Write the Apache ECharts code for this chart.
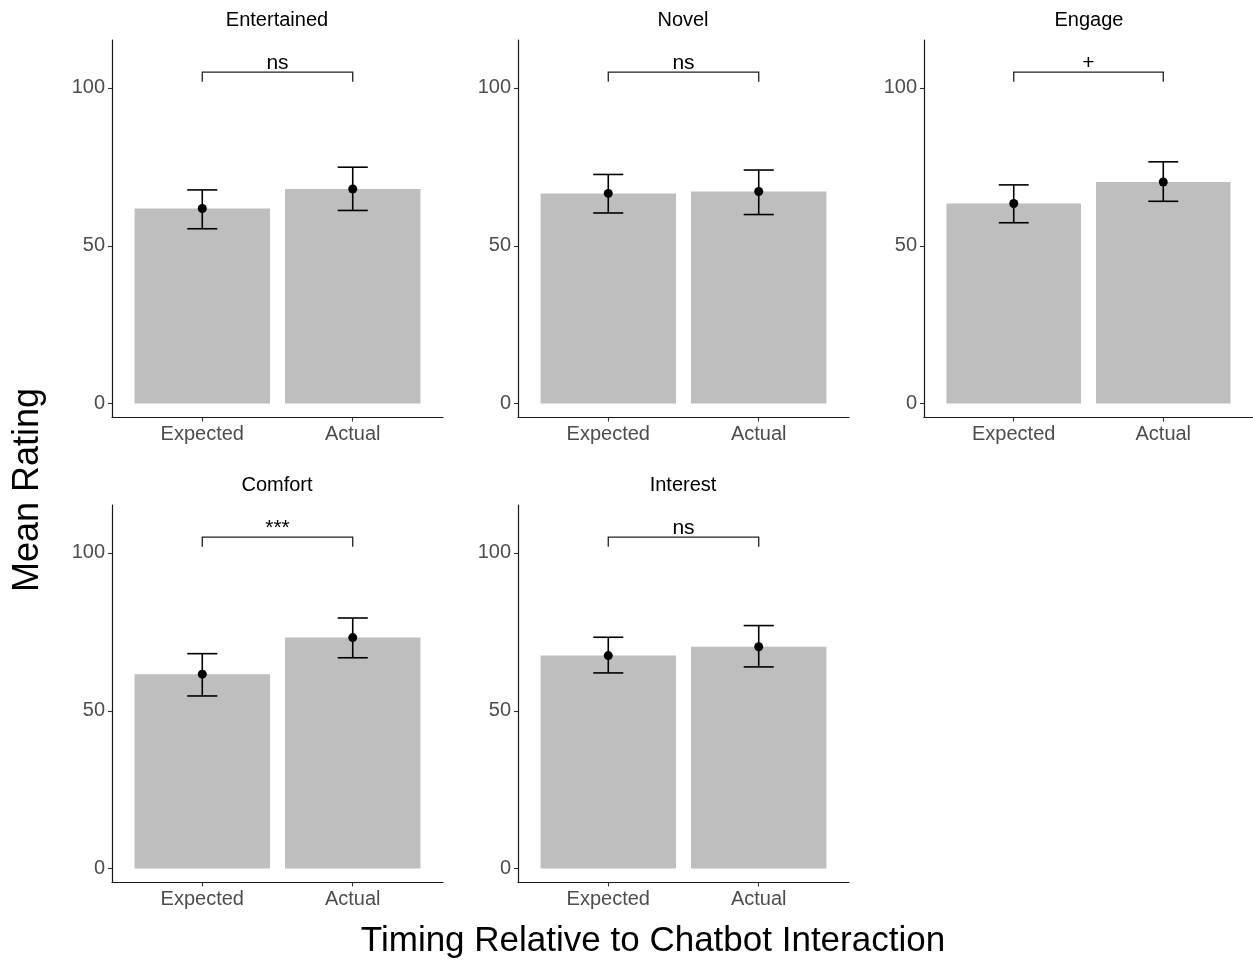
<!DOCTYPE html>
<html>
<head>
<meta charset="utf-8">
<script src="https://cdn.jsdelivr.net/npm/echarts@6/dist/echarts.min.js"></script>
<style>
html,body{margin:0;padding:0;background:#fff;}
#chart{width:1253px;height:960px;}
</style>
</head>
<body>
<div id="chart"></div>
<script>
// ---- data ----
const panelNames = ['Entertained', 'Novel', 'Engage', 'Comfort', 'Interest'];
const categories = ['Expected', 'Actual'];
const meanExpected = [61.8, 66.6, 63.4, 61.6, 67.5];
const meanActual   = [68.0, 67.2, 70.2, 73.2, 70.3];
const lowExpected  = [55.4, 60.4, 57.3, 54.7, 62.0];
const highExpected = [67.7, 72.6, 69.3, 68.1, 73.3];
const lowActual    = [61.2, 59.9, 64.1, 66.8, 63.9];
const highActual   = [74.9, 74.0, 76.6, 79.4, 77.0];
const sigLabels    = ['ns', 'ns', '+', '***', 'ns'];
const bracketLow = 102, bracketHigh = 105;
const yTicks = [0, 50, 100];
const xTicks = [1, 2];

// ---- layout ----
const FONT = '"Liberation Sans", Arial, Helvetica, sans-serif';
const panelBoxes = [
  {left: 112, top: 40, width: 331, height: 377.5},
  {left: 518, top: 40, width: 331, height: 377.5},
  {left: 924, top: 40, width: 331, height: 377.5},
  {left: 112, top: 505, width: 331, height: 377.5},
  {left: 518, top: 505, width: 331, height: 377.5}
];

const grids = [], xAxes = [], yAxes = [], series = [], graphics = [];

panelBoxes.forEach((b, i) => {
  grids.push({left: b.left, top: b.top, width: b.width, height: b.height, containLabel: false});
  xAxes.push({
    type: 'value', gridIndex: i, min: 0.4, max: 2.6,
    axisLine: {show: true, onZero: false, lineStyle: {color: '#1a1a1a', width: 1.2}},
    axisTick: {show: true, customValues: xTicks, length: 4, lineStyle: {color: '#333', width: 1.1}},
    axisLabel: {show: true, customValues: xTicks, margin: 7, color: '#4d4d4d', fontSize: 20, fontFamily: FONT,
      formatter: v => categories[Math.round(v) - 1] || ''},
    splitLine: {show: false}
  });
  yAxes.push({
    type: 'value', gridIndex: i, min: -4.4, max: 115.2,
    axisLine: {show: true, onZero: false, lineStyle: {color: '#1a1a1a', width: 1.2}},
    axisTick: {show: true, customValues: yTicks, length: 4, lineStyle: {color: '#333', width: 1.1}},
    axisLabel: {show: true, customValues: yTicks, margin: 7, color: '#4d4d4d', fontSize: 20, fontFamily: FONT},
    splitLine: {show: false}
  });
  graphics.push({
    type: 'text', x: b.left + b.width / 2 - 0.5, y: b.top - 20,
    style: {text: panelNames[i], align: 'center', verticalAlign: 'middle', fontSize: 20, fontFamily: FONT, fill: '#000'}
  });

  const barData = [[1, meanExpected[i]], [2, meanActual[i]]];
  const errData = [[1, lowExpected[i], highExpected[i]], [2, lowActual[i], highActual[i]]];

  series.push({
    type: 'custom', xAxisIndex: i, yAxisIndex: i, z: 2,
    data: barData,
    renderItem: (params, api) => {
      const x = api.value(0), y = api.value(1);
      const p0 = api.coord([x - 0.45, y]);
      const p1 = api.coord([x + 0.45, 0]);
      return {type: 'rect', shape: {x: p0[0], y: p0[1], width: p1[0] - p0[0], height: p1[1] - p0[1]},
        style: {fill: '#bebebe'}};
    }
  });
  series.push({
    type: 'custom', xAxisIndex: i, yAxisIndex: i, z: 3,
    data: errData,
    renderItem: (params, api) => {
      const x = api.value(0), lo = api.value(1), hi = api.value(2);
      const a = api.coord([x, lo]), b2 = api.coord([x, hi]);
      const l = api.coord([x - 0.1, lo])[0], r = api.coord([x + 0.1, lo])[0];
      const st = {stroke: '#000', lineWidth: 1.6};
      return {type: 'group', children: [
        {type: 'line', shape: {x1: a[0], y1: a[1], x2: b2[0], y2: b2[1]}, style: st},
        {type: 'line', shape: {x1: l, y1: a[1], x2: r, y2: a[1]}, style: st},
        {type: 'line', shape: {x1: l, y1: b2[1], x2: r, y2: b2[1]}, style: st}
      ]};
    }
  });
  series.push({
    type: 'scatter', xAxisIndex: i, yAxisIndex: i, z: 4,
    data: barData, symbol: 'circle', symbolSize: 9,
    itemStyle: {color: '#000', opacity: 1}
  });
  series.push({
    type: 'custom', xAxisIndex: i, yAxisIndex: i, z: 3,
    data: [[1, 2, bracketLow, bracketHigh]],
    renderItem: (params, api) => {
      const x1 = api.value(0), x2 = api.value(1), lo = api.value(2), hi = api.value(3);
      const p1 = api.coord([x1, lo]), p2 = api.coord([x1, hi]), p3 = api.coord([x2, hi]), p4 = api.coord([x2, lo]);
      const mid = api.coord([(x1 + x2) / 2, hi]);
      return {type: 'group', children: [
        {type: 'polyline', shape: {points: [p1, p2, p3, p4]}, style: {stroke: '#222', lineWidth: 1.3, fill: null}},
        {type: 'text', x: mid[0], y: mid[1] + 2,
          style: {text: sigLabels[i], align: 'center', verticalAlign: 'bottom', fontSize: 21, fontFamily: FONT, fill: '#000'}}
      ]};
    }
  });
});

graphics.push(
  {type: 'text', x: 28, y: 490, rotation: Math.PI / 2,
    style: {text: 'Mean Rating', align: 'center', verticalAlign: 'middle', fontSize: 36, fontFamily: FONT, fill: '#000'}},
  {type: 'text', x: 653, y: 941,
    style: {text: 'Timing Relative to Chatbot Interaction', align: 'center', verticalAlign: 'middle', fontSize: 35, fontFamily: FONT, fill: '#000'}}
);

const chart = echarts.init(document.getElementById('chart'), null, {renderer: 'canvas'});
chart.setOption({
  animation: false,
  backgroundColor: '#fff',
  grid: grids,
  xAxis: xAxes,
  yAxis: yAxes,
  series: series,
  graphic: graphics
});
</script>
</body>
</html>
